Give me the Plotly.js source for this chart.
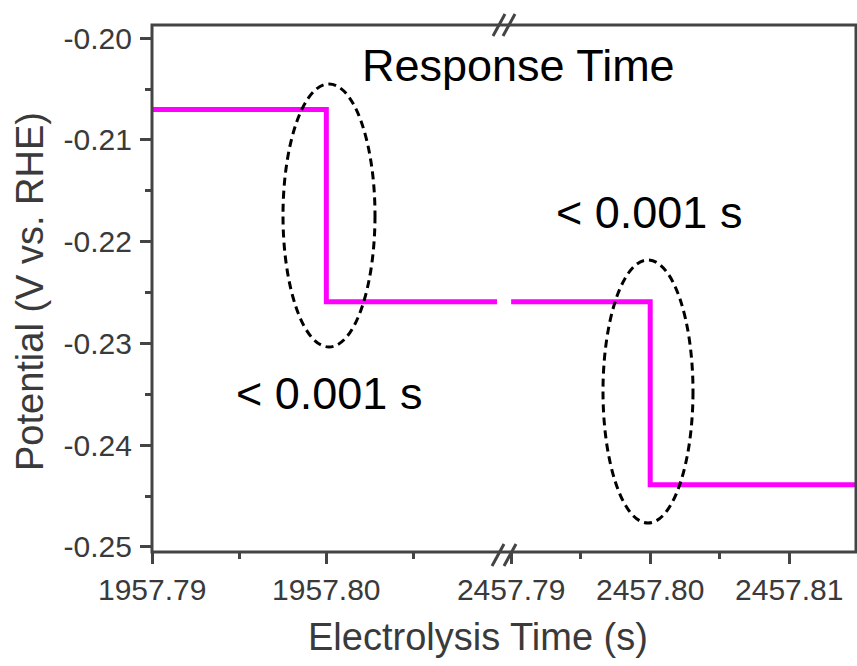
<!DOCTYPE html>
<html><head><meta charset="utf-8">
<script src="https://cdn.plot.ly/plotly-3.0.1.min.js"></script>
<style>html,body{margin:0;padding:0;background:#fff}#chart{width:857px;height:666px}</style>
</head><body><div id="chart"></div>
<script>
// ---- data ----
const timeEarly = [1957.79, 1957.80, 1957.80, 1957.8098];
const potentialEarly = [-0.2070, -0.2070, -0.2259, -0.2259];
const timeLate = [2457.79, 2457.80, 2457.80, 2457.815];
const potentialLate = [-0.2259, -0.2259, -0.2439, -0.2439];
const yTickVals = [-0.20, -0.21, -0.22, -0.23, -0.24, -0.25];
const yTickText = ["-0.20", "-0.21", "-0.22", "-0.23", "-0.24", "-0.25"];
const xEarlyTickVals = [1957.79, 1957.80];
const xEarlyTickText = ["1957.79", "1957.80"];
const xLateTickVals = [2457.79, 2457.80, 2457.81];
const xLateTickText = ["2457.79", "2457.80", "2457.81"];
const titleText = "Response Time";
const responseLabel = "< 0.001 s";
const xTitle = "Electrolysis Time (s)";
const yTitle = "Potential (V vs. RHE)";

// ---- layout helpers (pixel -> paper) ----
const L = 152, T = 25, W = 704, H = 527;
const px = x => (x - L) / W;
const py = y => (T + H - y) / H;
const FONT = "Liberation Sans, Arial, sans-serif";
const AX = "#444";
const TICKFONT = {family: FONT, size: 30, color: "#3a3a3a"};

const lineStyle = {color: "#ff00ff", width: 5};
const traces = [
  {x: timeEarly, y: potentialEarly, xaxis: "x", yaxis: "y", mode: "lines", line: lineStyle, hoverinfo: "skip"},
  {x: timeLate, y: potentialLate, xaxis: "x2", yaxis: "y", mode: "lines", line: lineStyle, hoverinfo: "skip"}
];

function xAxisCfg(extra) {
  return Object.assign({
    showline: false, zeroline: false, showgrid: false, ticks: "outside", ticklen: 11, tickwidth: 3, tickcolor: AX,
    tickmode: "array", tickfont: TICKFONT, anchor: "y",
    minor: {dtick: 0.005, ticks: "outside", ticklen: 6, tickwidth: 3, tickcolor: AX, showgrid: false}
  }, extra);
}

function slash(cx, cy) {
  return {type: "line", xref: "paper", yref: "paper", x0: px(cx - 6), y0: py(cy + 11), x1: px(cx + 6), y1: py(cy - 11),
          line: {color: AX, width: 3}};
}
function ellipse(x0, y0, x1, y1) {
  return {type: "circle", xref: "paper", yref: "paper", x0: px(x0), x1: px(x1), y0: py(y1), y1: py(y0),
          line: {color: "#000", width: 3, dash: "8px,5px"}};
}

const layout = {
  width: 857, height: 666,
  margin: {l: L, r: 857 - L - W, t: T, b: 666 - T - H, pad: 0},
  paper_bgcolor: "#fff", plot_bgcolor: "#fff", showlegend: false,
  xaxis: xAxisCfg({domain: [0, px(497)], range: [1957.78999, 1957.8098], tickvals: xEarlyTickVals, ticktext: xEarlyTickText}),
  xaxis2: xAxisCfg({domain: [px(511), 1], range: [2457.78999, 2457.8148], tickvals: xLateTickVals, ticktext: xLateTickText}),
  yaxis: {
    range: [-0.2505, -0.1987], showline: false, zeroline: false, showgrid: false, anchor: "x",
    ticks: "outside", ticklen: 11, tickwidth: 3, tickcolor: AX, ticklabelstandoff: 2,
    tickmode: "array", tickvals: yTickVals, ticktext: yTickText,
    tickfont: TICKFONT,
    minor: {dtick: 0.005, ticks: "outside", ticklen: 6, tickwidth: 3, tickcolor: AX, showgrid: false}
  },
  shapes: [
    {type: "rect", xref: "paper", yref: "paper", x0: 0, x1: 1, y0: 0, y1: 1, line: {color: AX, width: 3}},
    slash(499, 25), slash(509, 25),
    slash(498, 555), slash(510, 555),
    ellipse(283, 84, 375, 347),
    ellipse(603, 260, 693, 523)
  ],
  annotations: [
    {text: titleText, xref: "paper", yref: "paper", x: px(518), y: py(65), showarrow: false, xanchor: "center", yanchor: "middle",
     font: {family: FONT, size: 45, color: "#000"}},
    {text: responseLabel, xref: "paper", yref: "paper", x: px(329), y: py(393), showarrow: false, xanchor: "center", yanchor: "middle",
     font: {family: FONT, size: 45, color: "#000"}},
    {text: responseLabel, xref: "paper", yref: "paper", x: px(649), y: py(212), showarrow: false, xanchor: "center", yanchor: "middle",
     font: {family: FONT, size: 45, color: "#000"}},
    {text: xTitle, xref: "paper", yref: "paper", x: px(478), y: py(637), showarrow: false, xanchor: "center", yanchor: "middle",
     font: {family: FONT, size: 38, color: "#3a3a3a"}},
    {text: yTitle, xref: "paper", yref: "paper", x: px(30), y: py(292), showarrow: false, xanchor: "center", yanchor: "middle",
     textangle: -90, font: {family: FONT, size: 38, color: "#3a3a3a"}}
  ]
};

Plotly.newPlot("chart", traces, layout, {staticPlot: true, displayModeBar: false});
</script>
</body></html>
